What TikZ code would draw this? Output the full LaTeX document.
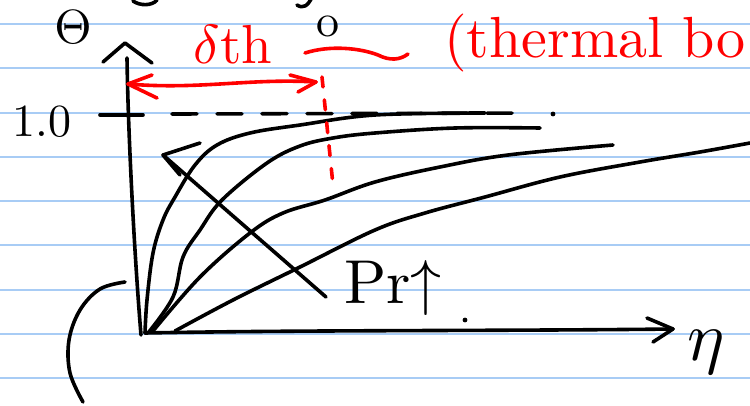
\documentclass[tikz,border=0pt]{standalone}
\usetikzlibrary{calc}
\definecolor{ruleblue}{RGB}{168,204,245}
\definecolor{pen}{RGB}{255,0,0}
\begin{document}
\begin{tikzpicture}[x=1pt,y=-1pt,
  ink/.style={line width=3.6pt,line cap=round,line join=round},
  redink/.style={ink,draw=pen},
  ruled/.style={draw=ruleblue,line width=2pt},
  hand/.style={inner sep=0pt,anchor=center}]
\useasboundingbox (0,0) rectangle (750,405);
\clip (0,0) rectangle (750,405);
\fill[white] (0,0) rectangle (750,405);
\foreach \i in {0,...,8} \draw[ruled] (0,{24+44.25*\i}) -- (750,{24+44.25*\i});

% top fragments
\draw[ink] (133,1) .. controls (140,6) and (152,6) .. (157,0);
\draw[ink] (297,5) .. controls (303,9) and (308,6) .. (312,-3);

% text
\node[hand,scale=4.8] (theta) at (73,27) {$\Theta$};
\node[hand,scale=4.6] (sub0) at (328,26) {o};
\node[hand,scale=4.6] (one) at (42,122) {1.0};
\node[hand,text=pen,scale=5.5] (delta) at (233,45) {$\delta$th};
\node[hand,text=pen,anchor=west,scale=5.8] (therm) at (443,43) {(thermal bo};
\node[hand,scale=6.2] (pr) at (393,288) {Pr$\uparrow$};
\node[hand,scale=7] (eta) at (706,352) {$\eta$};

% axes
\coordinate (o) at (141,335);
\coordinate (ytop) at (127,58);
\coordinate (xend) at (673,329);
\draw[ink] (o) .. controls (134,250) and (128,130) .. (ytop);
\draw[ink] (103,62) -- (125,43) -- (152,63);
\draw[ink] (145,333) .. controls (300,330) and (500,331) .. (xend);
\draw[ink] (647,318) -- (xend) -- (653,342);

% 1.0 tick and dashed level
\draw[ink] (100,115) -- (143,115);
\draw[ink,dash pattern=on 25pt off 20pt] (172,114) -- (530,113);
\fill (553,114) circle (2.4pt);
\fill (465,320) circle (2.4pt);

% profile curves
\draw[ink] plot[smooth,tension=0.6] coordinates {(145,333) (147,300) (153,253) (163,220) (175,197) (195,165) (217,145) (250,133) (300,125) (375,115) (485,113)};
\draw[ink] plot[smooth,tension=0.6] coordinates {(148,333) (173,297) (183,257) (200,230) (222,200) (267,163) (300,146) (333,138) (375,133) (455,128) (540,128)};
\draw[ink] plot[smooth,tension=0.6] coordinates {(153,331) (200,277) (250,233) (283,213) (325,200) (375,182) (440,167) (508,155) (613,145)};
\draw[ink] plot[smooth,tension=0.6] coordinates {(175,331) (233,300) (300,267) (375,230) (425,213) (485,197) (560,177) (640,162) (700,152) (750,143)};

% Pr arrow
\coordinate (prs) at (326,297);
\coordinate (prh) at (163,155);
\draw[ink] (prs) -- (prh);
\draw[ink] (200,143) -- (prh) -- (180,175);

% red delta_th arrow
\coordinate (dl) at (128,84);
\coordinate (dr) at (316,82);
\draw[redink] (dl) .. controls (200,90) and (250,78) .. (dr);
\draw[redink] (152,75) -- (dl) -- (157,98);
\draw[redink] (290,75) -- (dr) -- (298,92);
\draw[redink,dash pattern=on 10pt off 13pt] (322,77) -- (333,185);
\draw[redink] (305,53) .. controls (330,45) and (360,48) .. (378,55) .. controls (390,61) and (400,60) .. (408,54);

% bottom-left bracket
\draw[ink] plot[smooth,tension=0.6] coordinates {(125,282) (100,289) (80,310) (69,340) (70,373) (83,402)};
\end{tikzpicture}
\end{document}
